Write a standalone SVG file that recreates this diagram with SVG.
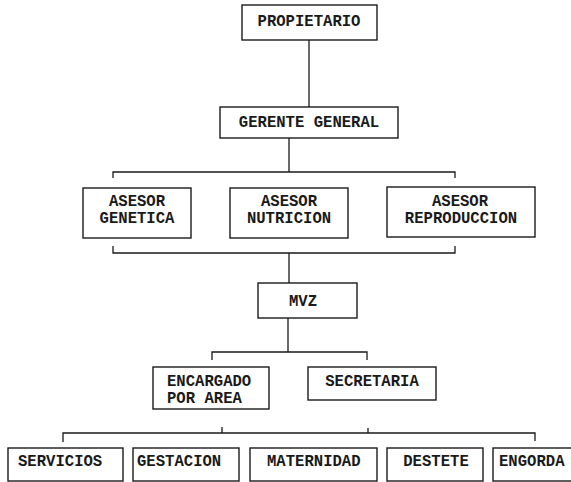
<svg xmlns="http://www.w3.org/2000/svg" width="571" height="482" viewBox="0 0 571 482">
<style>
.box{fill:none;stroke:#1a1a1a;stroke-width:1.4}
.t{font-family:"Liberation Mono","DejaVu Sans Mono",monospace;font-size:15.6px;font-weight:bold;fill:#1a1a1a}
.c{text-anchor:middle}
.ln{fill:none;stroke:#1a1a1a;stroke-width:1.3}
</style>
<rect width="571" height="482" fill="#fff"/>
<g id="connectors">
<path class="ln" d="M309,40 V107"/>
<path class="ln" d="M289,138 V172"/>
<path class="ln" d="M113,178 V172 H455 V178"/>
<path class="ln" d="M113,246 V253 H455 V246"/>
<path class="ln" d="M289,253 V283"/>
<path class="ln" d="M288,318 V352"/>
<path class="ln" d="M212,360 V352 H367 V360"/>
<path class="ln" d="M63,442 V433 H535 V441"/>
<path class="ln" d="M222,427 V433"/>
<path class="ln" d="M368,428 V433"/>
</g>
<g id="propietario"><rect class="box" x="242" y="5" width="135" height="35"/><text class="t c" x="309" y="26">PROPIETARIO</text></g>
<g id="gerente"><rect class="box" x="220" y="107" width="178" height="31"/><text class="t c" x="309" y="127">GERENTE GENERAL</text></g>
<g id="asesor-genetica"><rect class="box" x="83" y="188" width="108" height="50"/><text class="t c" x="137" y="206">ASESOR</text><text class="t c" x="137" y="223">GENETICA</text></g>
<g id="asesor-nutricion"><rect class="box" x="230" y="188" width="118" height="50"/><text class="t c" x="289" y="206">ASESOR</text><text class="t c" x="289" y="223">NUTRICION</text></g>
<g id="asesor-reproduccion"><rect class="box" x="387" y="187" width="148" height="50"/><text class="t c" x="460" y="206">ASESOR</text><text class="t c" x="461" y="223">REPRODUCCION</text></g>
<g id="mvz"><rect class="box" x="258" y="283" width="99" height="35"/><text class="t c" x="303" y="306">MVZ</text></g>
<g id="encargado"><rect class="box" x="153" y="367" width="116" height="42"/><text class="t" x="167" y="386">ENCARGADO</text><text class="t" x="167" y="403">POR AREA</text></g>
<g id="secretaria"><rect class="box" x="308" y="367" width="128" height="33"/><text class="t c" x="372" y="386">SECRETARIA</text></g>
<g id="servicios"><rect class="box" x="8" y="448" width="115" height="33"/><text class="t" x="18" y="466">SERVICIOS</text></g>
<g id="gestacion"><rect class="box" x="133" y="448" width="106" height="33"/><text class="t" x="137" y="466">GESTACION</text></g>
<g id="maternidad"><rect class="box" x="250" y="448" width="127" height="33"/><text class="t" x="267" y="466">MATERNIDAD</text></g>
<g id="destete"><rect class="box" x="387" y="448" width="96" height="33"/><text class="t c" x="436" y="466">DESTETE</text></g>
<g id="engorda"><rect class="box" x="493" y="448" width="82" height="33"/><text class="t" x="499" y="466">ENGORDA</text></g>
</svg>
